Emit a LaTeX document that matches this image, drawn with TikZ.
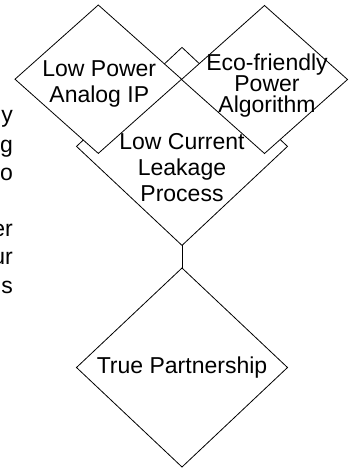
\documentclass[tikz,border=0pt]{standalone}
\usepackage{fontspec}
\setmainfont{Liberation Sans}
\usetikzlibrary{shapes.geometric}
\usetikzlibrary{positioning}

\begin{document}
\begin{tikzpicture}[x=1pt, y=-1pt,
    block/.style={diamond, draw, fill=white, line width=0.8pt, inner sep=0pt, outer sep=0pt},
    txt/.style={align=center, inner sep=0pt, font=\fontsize{23}{26}\selectfont}]
    \useasboundingbox (0,0) rectangle (352,468);
    % text column cut off at the left edge
    \foreach \ypos/\frag [count=\i] in {123/y, 152/g, 180/o, 236/er, 264/ur, 293/s}
      \node[txt, anchor=base east] (side\i) at (13,\ypos) {\frag};
    % the diamonds
    \node[block, minimum width=211pt, minimum height=198pt] (leak) at (182,146.4) {};
    \node[block, minimum width=166.6pt, minimum height=148.4pt] (analog) at (98.3,79.2) {};
    \node[block, minimum width=166pt, minimum height=148pt] (eco) at (264.5,79.5) {};
    \node[block, minimum width=211pt, minimum height=199pt] (partner) at (182,367.5) {};
    \draw[line width=0.8pt] (leak.south) -- (partner.north);
    \node[txt] (analogText) at ([xshift=1pt, yshift=-5pt]analog.center) {Low Power\\Analog IP};
    \node[txt, font=\fontsize{23}{21}\selectfont] (ecoText) at ([xshift=2.5pt, yshift=-6.5pt]eco.center) {Eco-friendly\\Power\\Algorithm};
    \node[txt] (leakText) at ([yshift=-21.6pt]leak.center) {Low Current\\Leakage\\Process};
    \node[txt] (partnerText) at ([yshift=-0.5pt]partner.center) {True Partnership};
\end{tikzpicture}
\end{document}
